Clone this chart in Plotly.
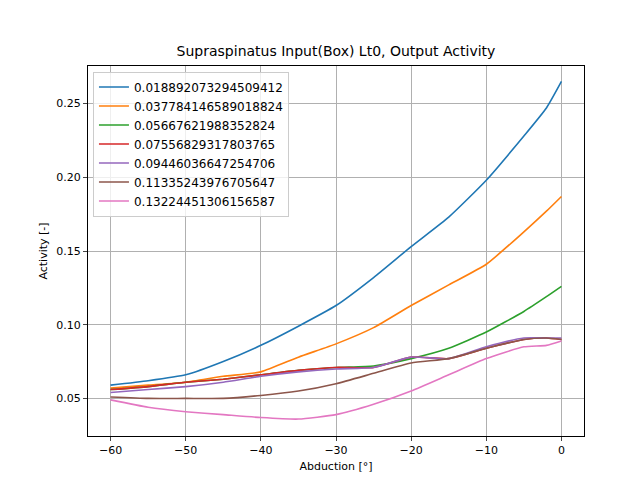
import plotly.graph_objects as go

names = ["0.018892073294509412","0.037784146589018824","0.05667621988352824","0.07556829317803765",
         "0.09446036647254706","0.11335243976705647","0.13224451306156587"]
colors = ["#1f77b4","#ff7f0e","#2ca02c","#d62728","#9467bd","#8c564b","#e377c2"]
x = [-60,-55,-50,-45,-40,-35,-30,-25,-20,-15,-10,-5,-2,0]
blue   = [0.059,0.062,0.066,0.075,0.086,0.099,0.113,0.132,0.153,0.173,0.198,0.228,0.247,0.265]
orange = [0.057,0.059,0.061,0.065,0.068,0.078,0.087,0.098,0.113,0.127,0.141,0.163,0.177,0.187]
green  = [0.056,0.058,0.061,0.063,0.066,0.069,0.071,0.072,0.077,0.084,0.095,0.109,0.119,0.126]
red    = [0.056,0.058,0.061,0.063,0.066,0.069,0.071,0.071,0.078,0.077,0.084,0.090,0.091,0.090]
purple = [0.054,0.056,0.058,0.061,0.065,0.068,0.070,0.071,0.078,0.077,0.085,0.091,0.091,0.091]
brown  = [0.051,0.050,0.050,0.050,0.052,0.055,0.060,0.067,0.074,0.077,0.084,0.090,0.091,0.090]
pink   = [0.049,0.044,0.041,0.039,0.037,0.036,0.039,0.046,0.055,0.066,0.077,0.085,0.086,0.089]
series = [blue,orange,green,red,purple,brown,pink]

fig = go.Figure()
for n,c,s in zip(names,colors,series):
    fig.add_trace(go.Scatter(x=x,y=s,name=n,mode="lines",line=dict(color=c,width=1.6,shape="spline",smoothing=0.5)))
ax = dict(showgrid=True,gridcolor="#b0b0b0",gridwidth=0.8,showline=True,linecolor="black",mirror=True,
          ticks="outside",ticklen=4,zeroline=False,title_font=dict(size=11),tickfont=dict(size=11))
fig.update_layout(width=640,height=480,plot_bgcolor="white",paper_bgcolor="white",
    font=dict(family="DejaVu Sans",size=11,color="black"),
    title=dict(text="Supraspinatus Input(Box) Lt0, Output Activity",x=0.5,xref="paper",y=1-43/480,yanchor="middle",xanchor="center",font=dict(size=14)),
    margin=dict(l=80,r=64,t=58,b=52),
    xaxis=dict(ax,title=dict(text="Abduction [°]",standoff=6),range=[-63,3],tickvals=[-60,-50,-40,-30,-20,-10,0]),
    yaxis=dict(ax,title=dict(text="Activity [-]",standoff=6),range=[0.0245,0.2755],tickvals=[0.05,0.10,0.15,0.20,0.25],tickformat=".2f"),
    legend=dict(x=0.01,y=0.985,xanchor="left",yanchor="top",bordercolor="#cccccc",borderwidth=1,bgcolor="rgba(255,255,255,0.8)",font=dict(size=12)))
fig.write_html("out.html")
